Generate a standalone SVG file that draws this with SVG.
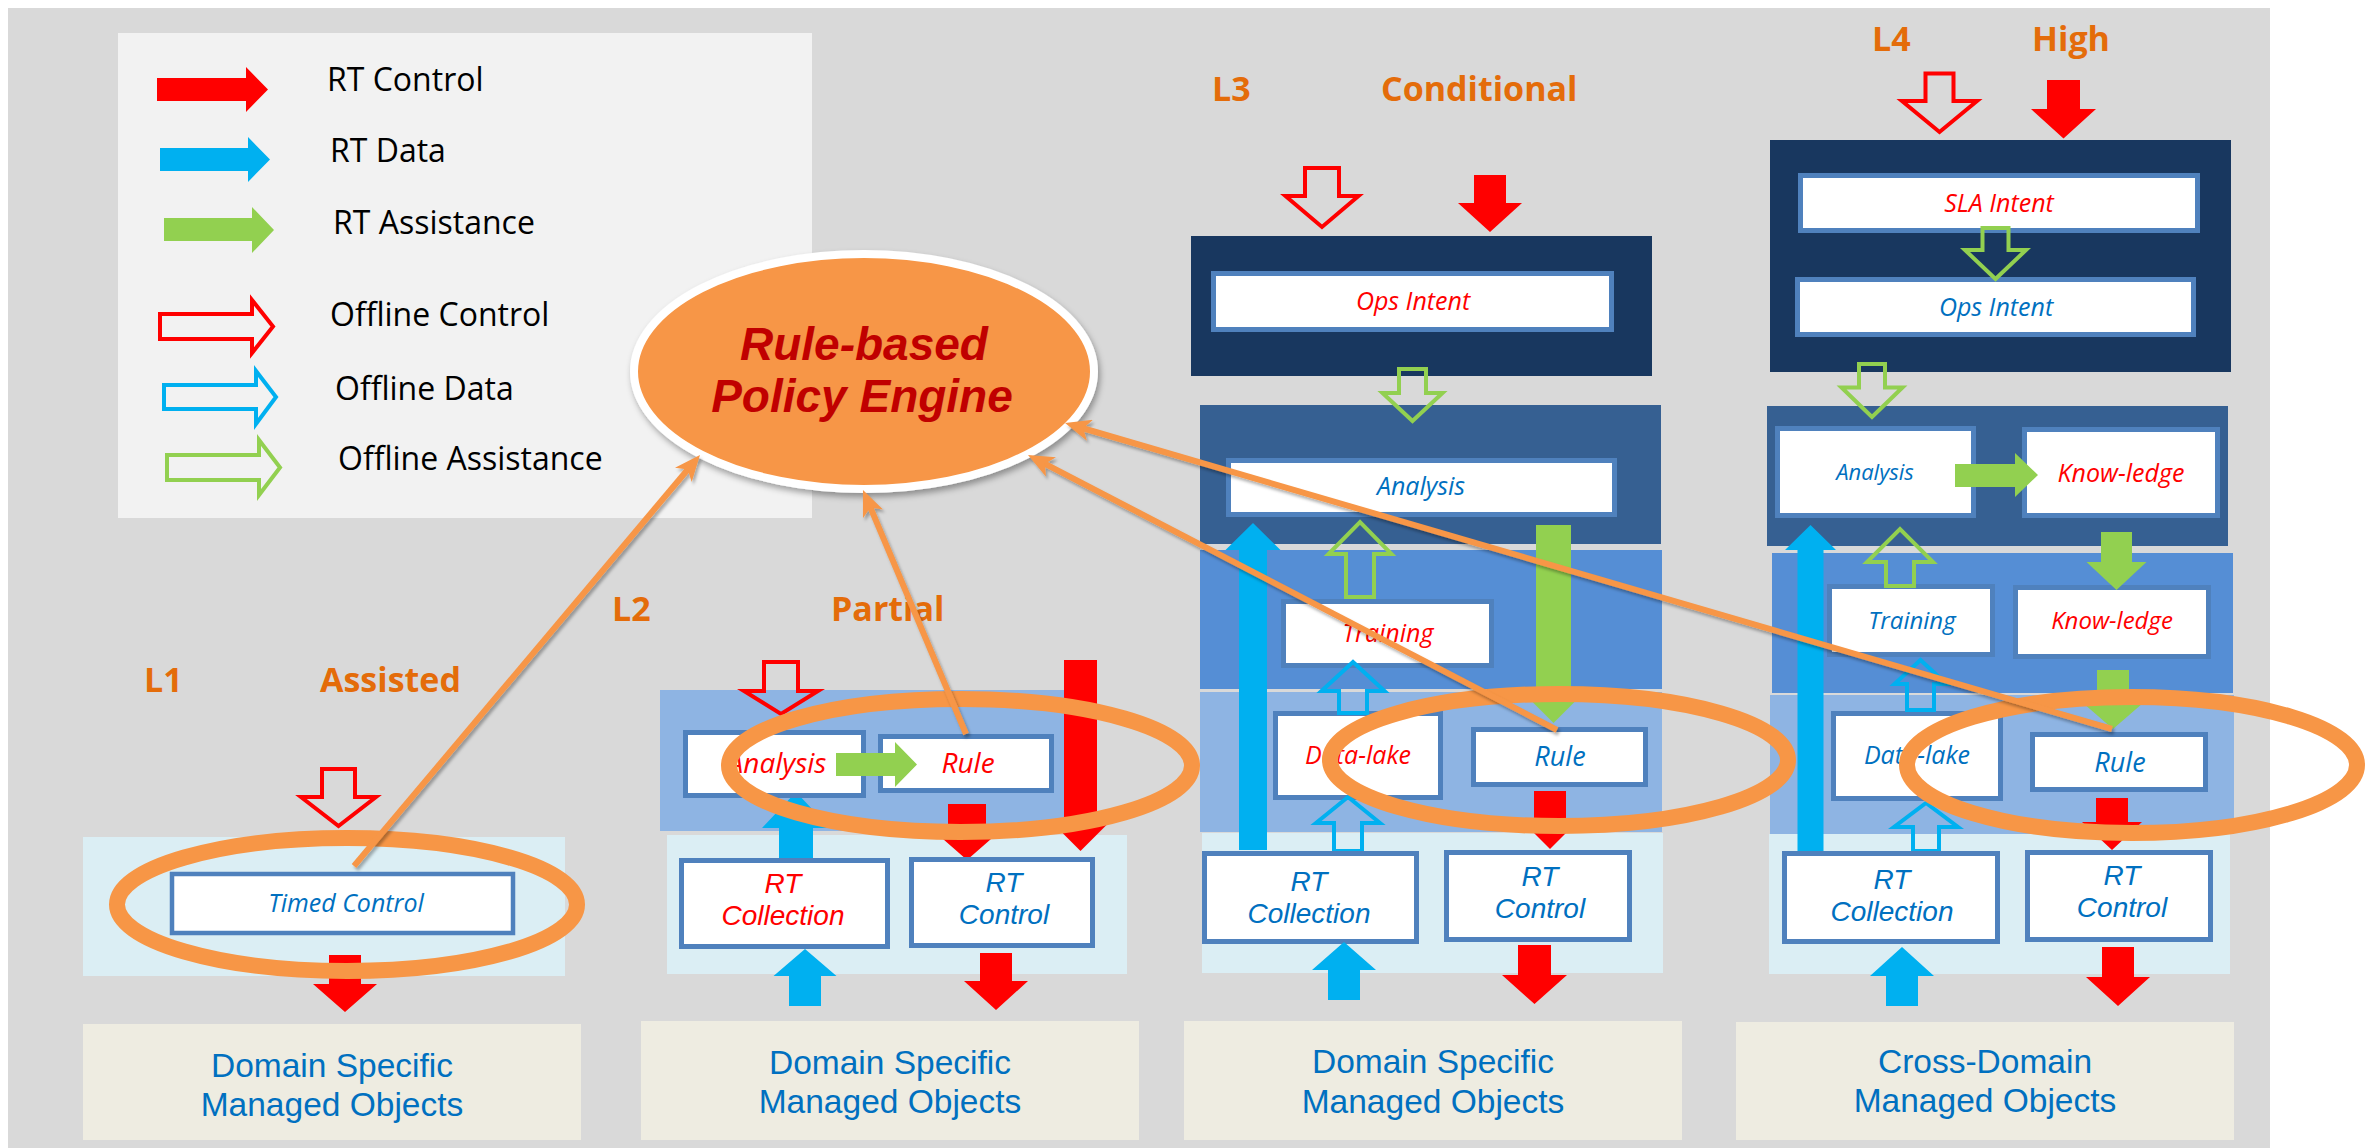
<svg xmlns="http://www.w3.org/2000/svg" width="2366" height="1148" viewBox="0 0 2366 1148">
  <style>
    text { font-family: "Open Sans", "Noto Sans", "DejaVu Sans", sans-serif; }
    text.ml { font-family: "Liberation Sans", Arial, sans-serif; }
    .bg { fill: #d9d9d9; }
    .leg { fill: #f2f2f2; }
    .navy { fill: #18375f; }
    .mdark { fill: #366092; }
    .mid { fill: #558ed5; }
    .light { fill: #8eb4e3; }
    .pale { fill: #dbeef4; }
    .beige { fill: #eeece1; }
    .box { fill: #ffffff; stroke: #4f81bd; stroke-width: 5; }
    .lvl { font-size: 34px; font-weight: bold; fill: #e46c0a; }
    .lg { font-size: 32px; fill: #000000; }
    .it { font-style: italic; text-anchor: middle; }
    .red { fill: #ff0000; }
    .blue { fill: #0070c0; }
    .dom { font-size: 33.5px; fill: #0070c0; text-anchor: middle; }
    .rc { fill: #ff0000; }
    .cy { fill: #00b0f0; }
    .gr { fill: #92d050; }
    .oc { fill: none; stroke: #ff0000; stroke-width: 4; }
    .od { fill: none; stroke: #00b0f0; stroke-width: 4; }
    .oa { fill: none; stroke: #92d050; stroke-width: 4; }
    .ring { fill: none; stroke: #f79646; stroke-width: 16; }
    .conn { fill: none; stroke: #f79646; stroke-width: 6; marker-end: url(#head); filter: url(#lineShadow); }
  </style>
  <defs>
    <marker id="head" markerUnits="userSpaceOnUse" markerWidth="26" markerHeight="22" refX="10" refY="11" orient="auto">
      <path d="M0,0 L26,11 L0,22 L7,11 z" fill="#f79646"/>
    </marker>
    <filter id="lineShadow" x="-10%" y="-10%" width="120%" height="120%">
      <feDropShadow dx="2" dy="3" stdDeviation="1.5" flood-color="#000000" flood-opacity="0.3"/>
    </filter>
    <filter id="engineShadow" x="-10%" y="-10%" width="120%" height="130%">
      <feDropShadow dx="2" dy="4" stdDeviation="3" flood-color="#000000" flood-opacity="0.35"/>
    </filter>
  </defs>

  <!-- canvas -->
  <rect x="0" y="0" width="2366" height="1148" fill="#ffffff"/>
  <rect class="bg" x="8" y="8" width="2262" height="1140"/>

  <!-- legend -->
  <g id="legend">
    <rect class="leg" x="118" y="33" width="694" height="485"/>
    <polygon class="rc" points="157,78 246,78 246,67 268,89.5 246,112 246,101 157,101"/>
    <polygon class="cy" points="160,148 248,148 248,137 270,159.5 248,182 248,171 160,171"/>
    <polygon class="gr" points="164,218 252,218 252,207 274,230 252,253 252,241 164,241"/>
    <polygon class="oc" points="160,314 252,314 252,300 273,326.5 252,353 252,339 160,339"/>
    <polygon class="od" points="164,385 256,385 256,371 276,397 256,424 256,409 164,409"/>
    <polygon class="oa" points="167,455 259,455 259,440 280,467.5 259,495 259,480 167,480"/>
    <text class="lg" x="327" y="91">RT Control</text>
    <text class="lg" x="330" y="162">RT Data</text>
    <text class="lg" x="333" y="234">RT Assistance</text>
    <text class="lg" x="330" y="326">Offline Control</text>
    <text class="lg" x="335" y="400">Offline Data</text>
    <text class="lg" x="338" y="470">Offline Assistance</text>
  </g>

  <!-- level titles -->
  <g id="levels">
    <text class="lvl" x="144" y="692">L1</text>
    <text class="lvl" x="320" y="692">Assisted</text>
    <text class="lvl" x="612" y="621">L2</text>
    <text class="lvl" x="831" y="621">Partial</text>
    <text class="lvl" x="1212" y="101">L3</text>
    <text class="lvl" x="1381" y="101">Conditional</text>
    <text class="lvl" x="1872" y="51">L4</text>
    <text class="lvl" x="2032" y="51">High</text>
  </g>

  <!-- L1: assisted -->
  <g id="l1">
    <rect class="pale" x="83" y="837" width="482" height="139"/>
    <polygon class="oc" points="322,769 355,769 355,797 376,797 338.5,826 301,797 322,797"/>
    <g id="l1-timed-control">
      <rect class="box" x="172" y="874" width="341" height="59" style="stroke-width:4.5"/>
      <text class="it blue" x="346" y="912" font-size="25">Timed Control</text>
    </g>
    <polygon class="rc" points="329,955 361,955 361,984 377,984 345,1012 313,984 329,984"/>
    <g id="l1-objects">
      <rect class="beige" x="83" y="1024" width="498" height="116"/>
      <text class="dom ml" x="332" y="1077">Domain Specific</text>
      <text class="dom ml" x="332" y="1116">Managed Objects</text>
    </g>
  </g>

  <!-- L2: partial -->
  <g id="l2">
    <rect class="light" x="660" y="690" width="405" height="141"/>
    <rect class="pale" x="667" y="835" width="460" height="139"/>
    <polygon class="oc" points="764,662 798,662 798,691 818,691 781,714 744,691 764,691"/>
    <polygon class="cy" points="779,860 813,860 813,828 830,828 796,792 762,828 779,828"/>
    <g id="l2-analysis">
      <rect class="box" x="685.5" y="732.5" width="178" height="63"/>
      <text class="it red" x="777" y="773" font-size="28">Analysis</text>
    </g>
    <g id="l2-rule">
      <rect class="box" x="880.5" y="736.5" width="171" height="54"/>
      <text class="it red" x="968" y="773" font-size="28">Rule</text>
    </g>
    <polygon class="gr" points="836,753 895,753 895,742 917,764.5 895,787 895,776 836,776"/>
    <polygon class="rc" points="1064,660 1097,660 1097,821 1110.5,821 1080.5,851 1050.5,821 1064,821"/>
    <polygon class="rc" points="948,804 986,804 986,832 999,832 967,860 935,832 948,832"/>
    <g id="l2-rt-collection">
      <rect class="box" x="681.5" y="860.5" width="206" height="86"/>
      <text class="it red ml" x="783" y="893" font-size="28">RT</text>
      <text class="it red ml" x="783" y="925" font-size="28">Collection</text>
    </g>
    <g id="l2-rt-control">
      <rect class="box" x="911.5" y="859.5" width="181" height="86"/>
      <text class="it blue ml" x="1004" y="892" font-size="28">RT</text>
      <text class="it blue ml" x="1004" y="924" font-size="28">Control</text>
    </g>
    <polygon class="cy" points="789,1006 821,1006 821,976 836.5,976 805,949 773.5,976 789,976"/>
    <polygon class="rc" points="980,953 1012,953 1012,981 1028,981 996,1010 964,981 980,981"/>
    <g id="l2-objects">
      <rect class="beige" x="641" y="1021" width="498" height="119"/>
      <text class="dom ml" x="890" y="1074">Domain Specific</text>
      <text class="dom ml" x="890" y="1113">Managed Objects</text>
    </g>
  </g>

  <!-- L3: conditional -->
  <g id="l3">
    <polygon class="oc" points="1305,168 1339,168 1339,196 1358.5,196 1322,227 1285.5,196 1305,196"/>
    <polygon class="rc" points="1474,175 1506,175 1506,203 1522,203 1490,232 1458,203 1474,203"/>
    <rect class="navy" x="1191" y="236" width="461" height="140"/>
    <rect class="mdark" x="1200" y="405" width="461" height="139"/>
    <rect class="mid" x="1200" y="550" width="462" height="139"/>
    <rect class="light" x="1200" y="692" width="462" height="140"/>
    <rect class="pale" x="1202" y="833" width="461" height="140"/>
    <g id="l3-ops-intent">
      <rect class="box" x="1213.5" y="273.5" width="398" height="56"/>
      <text class="it red" x="1413" y="310" font-size="25">Ops Intent</text>
    </g>
    <polygon class="oa" points="1399,369 1426,369 1426,393 1442.5,393 1412.5,421 1382.5,393 1399,393"/>
    <g id="l3-analysis">
      <rect class="box" x="1228.5" y="460.5" width="386" height="54"/>
      <text class="it blue" x="1421" y="495" font-size="25">Analysis</text>
    </g>
    <g id="l3-training">
      <rect class="box" x="1283.5" y="601.5" width="208" height="64"/>
      <text class="it red" x="1388" y="642" font-size="25">Training</text>
    </g>
    <g id="l3-data-lake">
      <rect class="box" x="1275.5" y="713.5" width="165" height="84"/>
      <text class="it red" x="1358" y="764" font-size="25">Data-lake</text>
    </g>
    <g id="l3-rule">
      <rect class="box" x="1473.5" y="729.5" width="172" height="55"/>
      <text class="it blue" x="1560" y="766" font-size="27">Rule</text>
    </g>
    <polygon class="oa" points="1346,597 1374,597 1374,554 1391.5,554 1360,522 1328.5,554 1346,554"/>
    <polygon class="od" points="1339,713 1367,713 1367,691 1384.5,691 1353,662 1321.5,691 1339,691"/>
    <polygon class="od" points="1334,851 1362,851 1362,823 1380,823 1348,797 1316,823 1334,823"/>
    <polygon class="gr" points="1536,525 1571,525 1571,693 1583.5,693 1553.5,723 1523.5,693 1536,693"/>
    <polygon class="cy" points="1239,850 1267,850 1267,550 1280.5,550 1253,523 1225.5,550 1239,550"/>
    <polygon class="rc" points="1534,791 1566,791 1566,819 1580,819 1550,849 1520,819 1534,819"/>
    <g id="l3-rt-collection">
      <rect class="box" x="1204.5" y="853.5" width="212" height="88"/>
      <text class="it blue ml" x="1309" y="891" font-size="28">RT</text>
      <text class="it blue ml" x="1309" y="923" font-size="28">Collection</text>
    </g>
    <g id="l3-rt-control">
      <rect class="box" x="1446.5" y="852.5" width="183" height="87"/>
      <text class="it blue ml" x="1540" y="886" font-size="28">RT</text>
      <text class="it blue ml" x="1540" y="918" font-size="28">Control</text>
    </g>
    <polygon class="cy" points="1328,1000 1360,1000 1360,970 1376,970 1344,942 1312,970 1328,970"/>
    <polygon class="rc" points="1518,945 1551,945 1551,975 1567,975 1534.5,1004 1502,975 1518,975"/>
    <g id="l3-objects">
      <rect class="beige" x="1184" y="1021" width="498" height="119"/>
      <text class="dom ml" x="1433" y="1073">Domain Specific</text>
      <text class="dom ml" x="1433" y="1113">Managed Objects</text>
    </g>
  </g>

  <!-- L4: high -->
  <g id="l4">
    <polygon class="oc" points="1925.5,73.5 1953.5,73.5 1953.5,101 1977,101 1939.5,132 1902,101 1925.5,101"/>
    <polygon class="rc" points="2047,80 2080,80 2080,109 2096,109 2063.5,138.5 2031,109 2047,109"/>
    <rect class="navy" x="1770" y="140" width="461" height="232"/>
    <rect class="mdark" x="1767" y="406" width="461" height="140"/>
    <rect class="mid" x="1772" y="553" width="461" height="140"/>
    <rect class="light" x="1770" y="695" width="464" height="139"/>
    <rect class="pale" x="1769" y="834" width="461" height="140"/>
    <g id="l4-sla-intent">
      <rect class="box" x="1800.5" y="175.5" width="397" height="55"/>
      <text class="it red" x="1999" y="212" font-size="25">SLA Intent</text>
    </g>
    <g id="l4-ops-intent">
      <rect class="box" x="1797.5" y="279.5" width="396" height="55"/>
      <text class="it blue" x="1996" y="316" font-size="25">Ops Intent</text>
    </g>
    <polygon class="oa" points="1982.5,228 2008.5,228 2008.5,250 2026,250 1995.5,279 1965,250 1982.5,250"/>
    <polygon class="oa" points="1859,364 1885,364 1885,387.5 1902.5,387.5 1872,417 1841.5,387.5 1859,387.5"/>
    <g id="l4-analysis">
      <rect class="box" x="1777.5" y="428.5" width="196" height="87"/>
      <text class="it blue" x="1875" y="480" font-size="22">Analysis</text>
    </g>
    <g id="l4-knowledge-top">
      <rect class="box" x="2024.5" y="429.5" width="193" height="86"/>
      <text class="it red" x="2121" y="482" font-size="25">Know-ledge</text>
    </g>
    <polygon class="gr" points="1955,464 2015,464 2015,453 2038,475 2015,497 2015,487 1955,487"/>
    <g id="l4-training">
      <rect class="box" x="1829.5" y="586.5" width="163" height="68"/>
      <text class="it blue" x="1912" y="629" font-size="24">Training</text>
    </g>
    <g id="l4-knowledge">
      <rect class="box" x="2015.5" y="587.5" width="193" height="69"/>
      <text class="it red" x="2112" y="629" font-size="24">Know-ledge</text>
    </g>
    <polygon class="cy" points="1797.5,851 1823.5,851 1823.5,550 1836,550 1810.5,525 1785,550 1797.5,550"/>
    <polygon class="oa" points="1886,586 1914,586 1914,562 1933,562 1900,529 1867,562 1886,562"/>
    <polygon class="gr" points="2101,532 2132,532 2132,562 2146.5,562 2116.5,590 2086.5,562 2101,562"/>
    <g id="l4-data-lake">
      <rect class="box" x="1833.5" y="713.5" width="167" height="85"/>
      <text class="it blue" x="1917" y="764" font-size="25">Data-lake</text>
    </g>
    <g id="l4-rule">
      <rect class="box" x="2032.5" y="734.5" width="173" height="55"/>
      <text class="it blue" x="2120" y="772" font-size="27">Rule</text>
    </g>
    <polygon class="gr" points="2097,670 2129,670 2129,703 2143,703 2113,729 2083,703 2097,703"/>
    <polygon class="od" points="1907,710 1934,710 1934,684 1946.5,684 1920.5,660 1894.5,684 1907,684"/>
    <polygon class="od" points="1913,851 1939,851 1939,827 1958,827 1926,803 1894,827 1913,827"/>
    <polygon class="rc" points="2096,798 2128,798 2128,822 2142,822 2112,850 2082,822 2096,822"/>
    <g id="l4-rt-collection">
      <rect class="box" x="1784.5" y="853.5" width="213" height="88"/>
      <text class="it blue ml" x="1892" y="889" font-size="28">RT</text>
      <text class="it blue ml" x="1892" y="921" font-size="28">Collection</text>
    </g>
    <g id="l4-rt-control">
      <rect class="box" x="2027.5" y="852.5" width="183" height="87"/>
      <text class="it blue ml" x="2122" y="885" font-size="28">RT</text>
      <text class="it blue ml" x="2122" y="917" font-size="28">Control</text>
    </g>
    <polygon class="cy" points="1886,1006 1918,1006 1918,976 1934,976 1902,947 1870,976 1886,976"/>
    <polygon class="rc" points="2102,947 2134,947 2134,977 2150,977 2118,1006 2086,977 2102,977"/>
    <g id="l4-objects">
      <rect class="beige" x="1736" y="1022" width="498" height="118"/>
      <text class="dom ml" x="1985" y="1073">Cross-Domain</text>
      <text class="dom ml" x="1985" y="1112">Managed Objects</text>
    </g>
  </g>

  <!-- rule scopes highlighted at each level -->
  <g id="rule-scopes">
    <ellipse class="ring" cx="347" cy="904.5" rx="230" ry="66.5"/>
    <ellipse class="ring" cx="960.5" cy="765.5" rx="231.5" ry="66.5"/>
    <ellipse class="ring" cx="1559" cy="760" rx="229" ry="66"/>
    <ellipse class="ring" cx="2132" cy="765" rx="225" ry="68"/>
  </g>

  <!-- policy engine -->
  <g id="policy-engine">
    <ellipse cx="864" cy="371.5" rx="230" ry="117.5" fill="#f79646" stroke="#ffffff" stroke-width="8" filter="url(#engineShadow)"/>
    <text class="ml" x="864" y="360" font-size="46" font-weight="bold" font-style="italic" fill="#c00000" text-anchor="middle">Rule-based</text>
    <text class="ml" x="862" y="412" font-size="46" font-weight="bold" font-style="italic" fill="#c00000" text-anchor="middle">Policy Engine</text>
  </g>

  <!-- connectors: rule boxes feeding the policy engine -->
  <g id="connectors">
    <path class="conn" d="M354,866 L689.7,467.2"/>
    <path class="conn" d="M966,734 L869.2,504.7"/>
    <path class="conn" d="M1557,730 L1042.2,462.4"/>
    <path class="conn" d="M2112,729 L1080.4,427.5"/>
  </g>
</svg>
